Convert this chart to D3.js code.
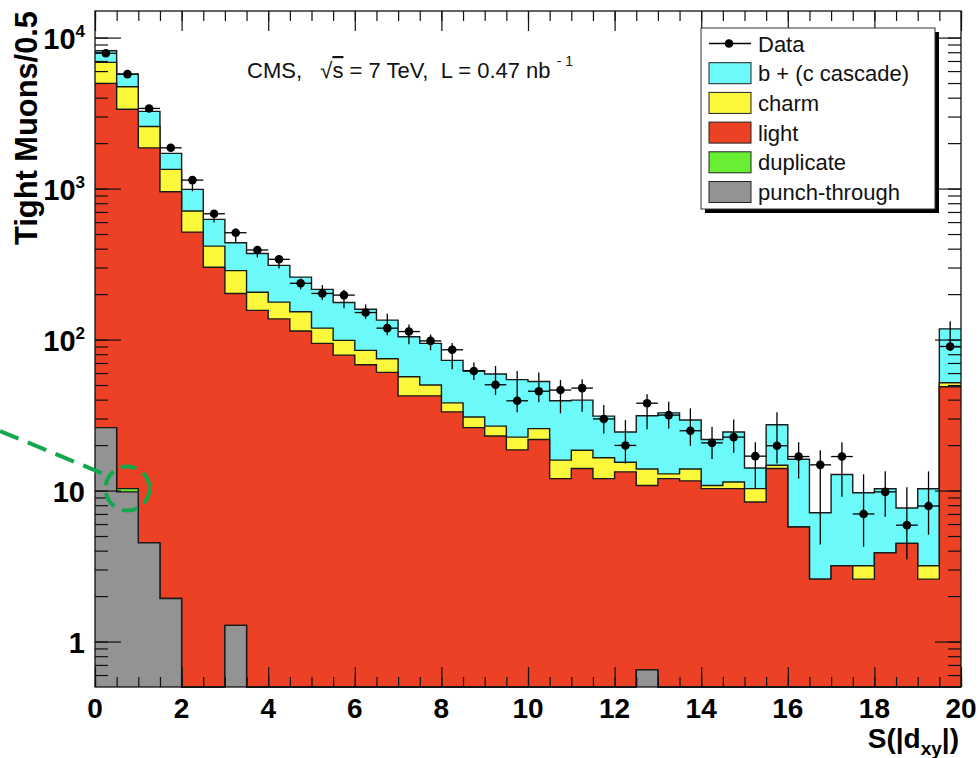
<!DOCTYPE html>
<html>
<head>
<meta charset="utf-8">
<script src="https://cdn.jsdelivr.net/npm/d3@7"></script>
<style>
body { margin: 0; background: #fff; }
svg { display: block; font-family: "Liberation Sans", Arial, Helvetica, sans-serif; }
</style>
</head>
<body>
<svg id="chart" width="979" height="758"></svg>
<script>
// histogram bins: 40 bins of 0.5 in S(|dxy|), from 0 to 20
var binWidth = 0.5;

// stacked MC components (events per bin)
var punch = [26.1, 9.8, 4.5, 1.93, 0, 0, 1.28, 0, 0, 0,
             0, 0, 0, 0, 0, 0, 0, 0, 0, 0,
             0, 0, 0, 0, 0, 0.65, 0, 0, 0, 0,
             0, 0, 0, 0, 0, 0, 0, 0, 0, 0];
var duplicate = [0, 0.5, 0, 0, 0, 0, 0, 0, 0, 0,
                 0, 0, 0, 0, 0, 0, 0, 0, 0, 0,
                 0, 0, 0, 0, 0, 0, 0, 0, 0, 0,
                 0, 0, 0, 0, 0, 0, 0, 0, 0, 0];
var light = [4949, 3340, 1857, 950, 515, 301, 200.7, 156, 137, 114,
             94.4, 78.9, 68.1, 60.6, 42.4, 42.4, 33.2, 26.1, 23.0, 18.6,
             21.8, 12.0, 14.0, 12.0, 13.3, 10.15, 12.0, 11.6, 10.3, 10.3,
             8.4, 14.0, 5.73, 2.59, 3.18, 2.59, 3.87, 4.47, 2.59, 48.7];
var charm = [1875, 1370, 718, 388, 195, 115, 84, 49.6, 40, 39,
             24.6, 19.9, 16.7, 14.0, 14.3, 7.6, 4.9, 4.6, 3.7, 4.0,
             3.9, 3.9, 4.5, 4.5, 2.1, 3.1, 0.9, 2.3, 0.5, 1.1,
             1.9, 0.7, 0, 0, 0, 0.59, 0, 0, 0.59, 3.1];
var bcasc = [1330, 1010, 665, 370, 278, 209, 152, 166, 133, 106,
             96, 77.2, 73.8, 60.0, 47.7, 44.4, 34.7, 31.4, 32.4, 31.7,
             27.1, 23.4, 21.2, 14.6, 9.0, 17.4, 19.8, 15.4, 11.0, 13.0,
             3.8, 12.6, 10.4, 4.54, 9.6, 6.49, 6.4, 3.2, 7.1, 66];

// data points and the ends of their error bars
var dataVals = [7870, 5730, 3395, 1862, 1138, 681, 510, 392, 340, 236,
                202, 197, 151, 119, 113, 98, 85.6, 61.9, 50.2, 39.3,
                45.5, 46.3, 47.7, 29.8, 19.9, 37.9, 31.6, 24.9, 20.7, 22.6,
                16.9, 19.8, 16.8, 14.8, 16.8, 7.0, 9.8, 5.9, 7.9, 90];
var dataLo = [7700, 5600, 3300, 1800, 960, 597, 434, 350, 296, 215,
              183, 161, 137, 107, 93, 85, 63.5, 54, 43, 33,
              38.5, 32.5, 33.3, 23.9, 15.1, 25.5, 25.8, 19.8, 16.2, 17.8,
              10.3, 15.1, 12, 4.4, 9.1, 4.25, 6.7, 3.5, 5.1, 84];
var dataHi = [8030, 5860, 3490, 1930, 1197, 721, 545, 412, 363, 254,
              230, 213, 171, 148, 126, 108, 95, 70.6, 66.8, 62,
              60.5, 54, 54.5, 36.8, 29.3, 43.4, 38.7, 35, 26.5, 29.6,
              20.9, 33, 20.9, 18.5, 20.9, 12.8, 13.4, 10.5, 13.4, 132];

var keys = ["punch", "duplicate", "light", "charm", "b"];
var names = {b: "b + (c cascade)", charm: "charm", light: "light", duplicate: "duplicate", punch: "punch-through"};
var colors = {b: "#6cf9f9", charm: "#fbf83c", light: "#ec4124", duplicate: "#68ef34", punch: "#939393"};

var xTicksMajor = [0, 2, 4, 6, 8, 10, 12, 14, 16, 18, 20];
var yTicksMajor = [1, 10, 100, 1000, 10000];
var yLabelBase = ["1", "10", "10", "10", "10"];
var yLabelExp = ["", "", "2", "3", "4"];

var plot = { left: 95, right: 961, top: 11, bottom: 687 };
var svg = d3.select("#chart");

var yMax = 15000;
var x = d3.scaleLinear().domain([0, 20]).range([plot.left, plot.right]);
var y = d3.scaleLog().domain([0.5, yMax]).range([plot.bottom, plot.top]).clamp(true);

var nBins = dataVals.length;
var rows = d3.range(nBins).map(function (i) {
    return { punch: punch[i], duplicate: duplicate[i], light: light[i], charm: charm[i], b: bcasc[i] };
});
var series = d3.stack().keys(keys)(rows);

function stepPoints(s) {
    var pts = s.map(function (d, i) { return { x: i * binWidth, v: d[1] }; });
    pts.push({ x: nBins * binWidth, v: s[nBins - 1][1] });
    return pts;
}

var area = d3.area()
    .curve(d3.curveStepAfter)
    .x(function (d) { return x(d.x); })
    .y0(plot.bottom)
    .y1(function (d) { return y(Math.max(d.v, 0.5)); });
var outline = d3.line()
    .curve(d3.curveStepAfter)
    .x(function (d) { return x(d.x); })
    .y(function (d) { return y(Math.max(d.v, 0.5)); });

var hist = svg.append("g");
series.slice().reverse().forEach(function (s) {
    var pts = stepPoints(s);
    hist.append("path").attr("d", area(pts)).attr("fill", colors[s.key]);
    hist.append("path").attr("d", outline(pts)).attr("fill", "none")
        .attr("stroke", "#1a1a1a").attr("stroke-width", 1.4);
});

// data with error bars
var pts = svg.append("g");
dataVals.forEach(function (v, i) {
    var cx = x((i + 0.5) * binWidth);
    pts.append("line").attr("x1", cx).attr("x2", cx)
        .attr("y1", y(dataLo[i])).attr("y2", y(dataHi[i]))
        .attr("stroke", "#000").attr("stroke-width", 1.3);
    pts.append("line").attr("x1", x(i * binWidth)).attr("x2", x((i + 1) * binWidth))
        .attr("y1", y(v)).attr("y2", y(v))
        .attr("stroke", "#000").attr("stroke-width", 1.3);
    pts.append("circle").attr("cx", cx).attr("cy", y(v)).attr("r", 4.3).attr("fill", "#000");
});

// frame and ticks (ROOT style, ticks inside on all four sides)
svg.append("rect").attr("x", plot.left).attr("y", plot.top)
    .attr("width", plot.right - plot.left).attr("height", plot.bottom - plot.top)
    .attr("fill", "none").attr("stroke", "#111").attr("stroke-width", 1.3);

var xMinor = d3.range(0, 20.01, 0.5);
var yMinor = [];
[-1, 0, 1, 2, 3, 4].forEach(function (e) {
    d3.range(1, 10).forEach(function (m) {
        var v = m * Math.pow(10, e);
        if (v > 0.5 && v < yMax) yMinor.push(v);
    });
});

function tickGroup(axis, tx, ty) {
    var g = svg.append("g").attr("transform", "translate(" + tx + "," + ty + ")").call(axis);
    g.select(".domain").remove();
    g.selectAll("line").attr("stroke", "#111").attr("stroke-width", 1.2);
    g.selectAll("text").remove();
}
tickGroup(d3.axisTop(x).tickValues(xMinor).tickSize(10), 0, plot.bottom);
tickGroup(d3.axisTop(x).tickValues(xTicksMajor).tickSize(20), 0, plot.bottom);
tickGroup(d3.axisBottom(x).tickValues(xMinor).tickSize(10), 0, plot.top);
tickGroup(d3.axisBottom(x).tickValues(xTicksMajor).tickSize(20), 0, plot.top);
tickGroup(d3.axisRight(y).tickValues(yMinor).tickSize(13), plot.left, 0);
tickGroup(d3.axisRight(y).tickValues(yTicksMajor).tickSize(26), plot.left, 0);
tickGroup(d3.axisLeft(y).tickValues(yMinor).tickSize(13), plot.right, 0);
tickGroup(d3.axisLeft(y).tickValues(yTicksMajor).tickSize(26), plot.right, 0);

// tick labels
svg.append("g").selectAll("text").data(xTicksMajor).enter().append("text")
    .attr("x", function (d) { return x(d); }).attr("y", 718)
    .attr("text-anchor", "middle").attr("font-size", 28).attr("font-weight", "bold")
    .text(function (d) { return d; });

yTicksMajor.forEach(function (v, i) {
    var t = svg.append("text").attr("x", 85).attr("y", y(v) + 11)
        .attr("text-anchor", "end").attr("font-size", 29).attr("font-weight", "bold");
    t.append("tspan").text(yLabelBase[i]);
    if (yLabelExp[i]) t.append("tspan").attr("dy", -12).attr("font-size", 17).text(yLabelExp[i]);
});

// axis titles
svg.append("text").attr("transform", "translate(37,11) rotate(-90)")
    .attr("text-anchor", "end").attr("font-size", 32).attr("font-weight", "bold")
    .attr("textLength", 234).attr("lengthAdjust", "spacingAndGlyphs")
    .text("Tight Muons/0.5");

var xt = svg.append("text").attr("x", 959).attr("y", 748)
    .attr("text-anchor", "end").attr("font-size", 28).attr("font-weight", "bold");
xt.append("tspan").text("S(|d");
xt.append("tspan").attr("dy", 7).attr("font-size", 19).text("xy");
xt.append("tspan").attr("dy", -7).text("|)");

// CMS label
var cms = svg.append("text").attr("x", 247).attr("y", 78).attr("font-size", 22)
    .style("white-space", "pre").attr("fill", "#111");
cms.append("tspan").text("CMS,   \u221A");
cms.append("tspan").style("text-decoration", "overline").text("s");
cms.append("tspan").text(" = 7 TeV,  L = 0.47 nb ");
cms.append("tspan").attr("dy", -12).attr("font-size", 14).text("- 1");

// legend
var leg = { x: 701, y: 28, w: 234, h: 181 };
svg.append("rect").attr("x", leg.x + 4).attr("y", leg.y + 4).attr("width", leg.w).attr("height", leg.h).attr("fill", "#000");
svg.append("rect").attr("x", leg.x).attr("y", leg.y).attr("width", leg.w).attr("height", leg.h)
    .attr("fill", "#fff").attr("stroke", "#333").attr("stroke-width", 1);

var legendItems = ["data", "b", "charm", "light", "duplicate", "punch"];
legendItems.forEach(function (k, i) {
    var cy = leg.y + 15.5 + i * 29.7;
    if (k === "data") {
        svg.append("line").attr("x1", leg.x + 8).attr("x2", leg.x + 50).attr("y1", cy).attr("y2", cy)
            .attr("stroke", "#000").attr("stroke-width", 1.3);
        svg.append("circle").attr("cx", leg.x + 28).attr("cy", cy).attr("r", 4.3).attr("fill", "#000");
    } else {
        svg.append("rect").attr("x", leg.x + 8).attr("y", cy - 10.5).attr("width", 42).attr("height", 21)
            .attr("fill", colors[k]).attr("stroke", "#222").attr("stroke-width", 1);
    }
    svg.append("text").attr("x", leg.x + 57).attr("y", cy + 8).attr("font-size", 22).attr("fill", "#111")
        .text(k === "data" ? "Data" : names[k]);
});

// green dashed annotation pointing at the duplicate bin
svg.append("line").attr("x1", 0).attr("y1", 431).attr("x2", 104).attr("y2", 474)
    .attr("stroke", "#13a84d").attr("stroke-width", 4).attr("stroke-dasharray", "20,10");
svg.append("circle").attr("cx", x(0.75)).attr("cy", y(10.3)).attr("r", 22)
    .attr("fill", "none").attr("stroke", "#13a84d").attr("stroke-width", 4).attr("stroke-dasharray", "16,8");
</script>
</body>
</html>
